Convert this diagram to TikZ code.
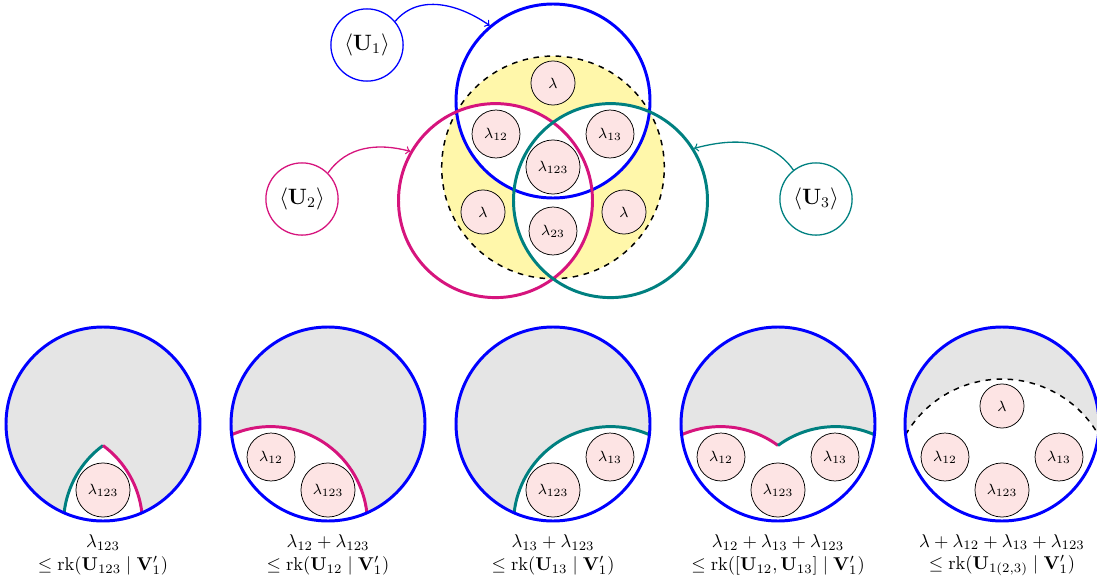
\documentclass[tikz,border=0pt]{standalone}
\usepackage{amsmath}
\definecolor{mag}{RGB}{214,20,125}
\definecolor{tl}{RGB}{0,128,128}
\definecolor{yel}{RGB}{255,247,170}
\definecolor{pk}{RGB}{253,228,228}
\begin{document}
\begin{tikzpicture}[x=0.54pt,y=0.54pt,
  big/.style={line width=1.6pt},
  bignode/.style={circle,draw,line width=1.6pt,minimum size=104.76pt,inner sep=0pt},
  lam/.style={circle,draw=black,line width=0.4pt,fill=pk,inner sep=0pt,font=\footnotesize},
  lamA/.style={lam,minimum size=23.8pt},
  lamB/.style={lam,minimum size=25.9pt},
  lamC/.style={lam,minimum size=29.2pt},
  unode/.style={circle,draw,line width=0.7pt,minimum size=39pt,inner sep=0pt,font=\large},
  conn/.style={->,line width=0.7pt},
  lbl/.style={align=center,inner sep=0pt}
]
\useasboundingbox (0,0) rectangle (1097,580);
% ---------------- top Venn ----------------
\begin{scope}[shift={(553,479)}]
  \fill[yel] (0,-66.4) circle[radius=111.32];
  \begin{scope}
    \clip (0,0) circle[radius=97];
    \fill[white] (-57.5,-99.6) circle[radius=97];
    \fill[white] (57.5,-99.6) circle[radius=97];
  \end{scope}
  \begin{scope}
    \clip (-57.5,-99.6) circle[radius=97];
    \fill[white] (57.5,-99.6) circle[radius=97];
  \end{scope}
  \draw[dashed,line width=0.8pt] (0,-66.4) circle[radius=111.32];
  \node[bignode,draw=blue] (c1) at (0,0) {};
  \node[bignode,draw=mag] (c2) at (-57.5,-99.6) {};
  \node[bignode,draw=tl] (c3) at (57.5,-99.6) {};
  \node[lamA] (l0) at (0,18) {$\lambda$};
  \node[lamB] (l12) at (-57,-33) {$\lambda_{12}$};
  \node[lamB] (l13) at (57,-33) {$\lambda_{13}$};
  \node[lamC] (l123) at (0,-66) {$\lambda_{123}$};
  \node[lamA] (l2) at (-70,-111) {$\lambda$};
  \node[lamA] (l3) at (71,-111) {$\lambda$};
  \node[lamB] (l23) at (0,-130) {$\lambda_{23}$};
\end{scope}
\node[unode,draw=blue] (u1) at (367,535) {$\langle\mathbf{U}_1\rangle$};
\node[unode,draw=mag] (u2) at (302,381) {$\langle\mathbf{U}_2\rangle$};
\node[unode,draw=tl] (u3) at (816,381) {$\langle\mathbf{U}_3\rangle$};
\draw[conn,blue] (u1.40) to[out=50,in=145] (c1.130);
\draw[conn,mag] (u2.45) to[out=55,in=165] (c2.150);
\draw[conn,tl] (u3.128) to[out=125,in=15] (c3.32);
% ---------------- panel 1 ----------------
\begin{scope}[shift={(103,156)}]
  \fill[gray!20] (0,0) circle[radius=97];
  \fill[white] (-38.9,-88.86) arc[start angle=173.64,end angle=126.36,radius=97]
     arc[start angle=53.64,end angle=6.36,radius=97]
     arc[start angle=-66.36,end angle=-113.64,radius=97] -- cycle;
  \draw[big,tl] (-38.9,-88.86) arc[start angle=173.64,end angle=126.36,radius=97];
  \draw[big,mag] (0,-21.48) arc[start angle=53.64,end angle=6.36,radius=97];
  \draw[big,blue] (0,0) circle[radius=97];
  \node[lamC] (p1a) at (0,-66) {$\lambda_{123}$};
  \node[lbl] (t1) at (0,-131) {\shortstack{$\lambda_{123}$\\$\leq \mathrm{rk}(\mathbf{U}_{123}\mid \mathbf{V}_1')$}};
\end{scope}
% ---------------- panel 2 ----------------
\begin{scope}[shift={(328,156)}]
  \fill[gray!20] (0,0) circle[radius=97];
  \fill[white] (-96.4,-10.74) arc[start angle=113.64,end angle=6.36,radius=97]
     arc[start angle=-66.36,end angle=-173.64,radius=97] -- cycle;
  \draw[big,mag] (-96.4,-10.74) arc[start angle=113.64,end angle=6.36,radius=97];
  \draw[big,blue] (0,0) circle[radius=97];
  \node[lamB] (p2a) at (-57,-33) {$\lambda_{12}$};
  \node[lamC] (p2b) at (0,-66) {$\lambda_{123}$};
  \node[lbl] (t2) at (0,-131) {\shortstack{$\lambda_{12}+\lambda_{123}$\\$\leq \mathrm{rk}(\mathbf{U}_{12}\mid \mathbf{V}_1')$}};
\end{scope}
% ---------------- panel 3 ----------------
\begin{scope}[shift={(553,156)}]
  \fill[gray!20] (0,0) circle[radius=97];
  \fill[white] (96.4,-10.74) arc[start angle=66.36,end angle=173.64,radius=97]
     arc[start angle=-113.64,end angle=-6.36,radius=97] -- cycle;
  \draw[big,tl] (96.4,-10.74) arc[start angle=66.36,end angle=173.64,radius=97];
  \draw[big,blue] (0,0) circle[radius=97];
  \node[lamB] (p3a) at (57,-33) {$\lambda_{13}$};
  \node[lamC] (p3b) at (0,-66) {$\lambda_{123}$};
  \node[lbl] (t3) at (0,-131) {\shortstack{$\lambda_{13}+\lambda_{123}$\\$\leq \mathrm{rk}(\mathbf{U}_{13}\mid \mathbf{V}_1')$}};
\end{scope}
% ---------------- panel 4 ----------------
\begin{scope}[shift={(778,156)}]
  \fill[gray!20] (0,0) circle[radius=97];
  \fill[white] (-96.4,-10.74) arc[start angle=113.64,end angle=53.64,radius=97]
     arc[start angle=126.36,end angle=66.36,radius=97]
     arc[start angle=-6.36,end angle=-173.64,radius=97] -- cycle;
  \draw[big,mag] (-96.4,-10.74) arc[start angle=113.64,end angle=53.64,radius=97];
  \draw[big,tl] (0,-21.48) arc[start angle=126.36,end angle=66.36,radius=97];
  \draw[big,blue] (0,0) circle[radius=97];
  \node[lamB] (p4a) at (-57,-33) {$\lambda_{12}$};
  \node[lamB] (p4b) at (57,-33) {$\lambda_{13}$};
  \node[lamC] (p4c) at (0,-66) {$\lambda_{123}$};
  \node[lbl] (t4) at (0,-131) {\shortstack{$\lambda_{12}+\lambda_{13}+\lambda_{123}$\\$\leq \mathrm{rk}([\mathbf{U}_{12},\mathbf{U}_{13}]\mid \mathbf{V}_1')$}};
\end{scope}
% ---------------- panel 5 ----------------
\begin{scope}[shift={(1002,156)}]
  \fill[gray!20] (0,0) circle[radius=97];
  \fill[white] (-96.4,-10.74) arc[start angle=150,end angle=30,radius=111.32]
     arc[start angle=-6.36,end angle=-173.64,radius=97] -- cycle;
  \draw[dashed,line width=0.8pt] (-96.4,-10.74) arc[start angle=150,end angle=30,radius=111.32];
  \draw[big,blue] (0,0) circle[radius=97];
  \node[lamA] (p5a) at (0,18) {$\lambda$};
  \node[lamB] (p5b) at (-57,-33) {$\lambda_{12}$};
  \node[lamB] (p5c) at (57,-33) {$\lambda_{13}$};
  \node[lamC] (p5d) at (0,-66) {$\lambda_{123}$};
  \node[lbl] (t5) at (0,-131) {\shortstack{$\lambda+\lambda_{12}+\lambda_{13}+\lambda_{123}$\\$\leq \mathrm{rk}(\mathbf{U}_{1(2,3)}\mid \mathbf{V}_1')$}};
\end{scope}
\end{tikzpicture}
\end{document}
